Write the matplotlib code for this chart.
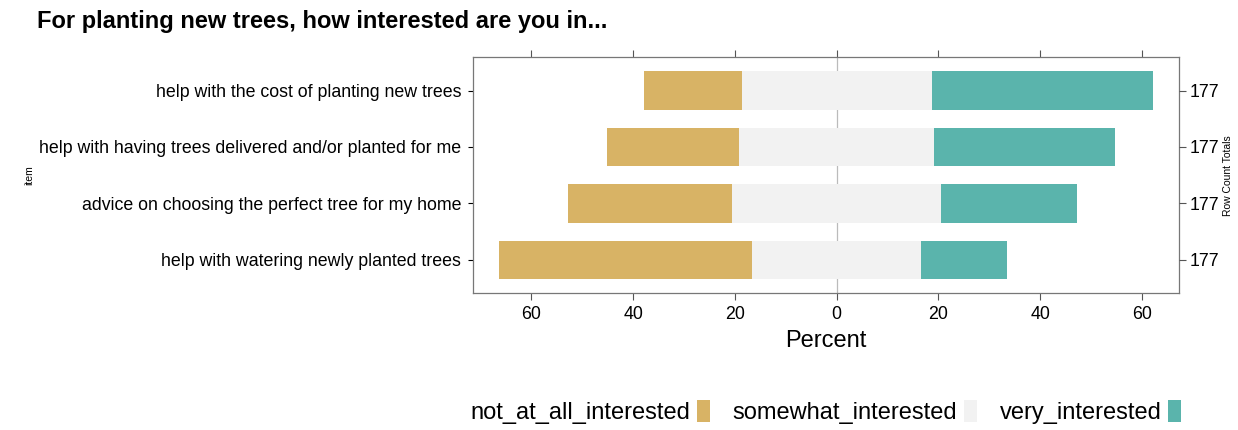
import numpy as np
import matplotlib
matplotlib.use("Agg")
import matplotlib.pyplot as plt
from matplotlib.patches import Patch

plt.rcParams['font.family'] = ['Liberation Sans', 'DejaVu Sans']

# survey items, top to bottom
items = [
    "help with the cost of planting new trees",
    "help with having trees delivered and/or planted for me",
    "advice on choosing the perfect tree for my home",
    "help with watering newly planted trees",
]
levels = ["not_at_all_interested", "somewhat_interested", "very_interested"]
# percent of respondents per level
not_at_all = [19.2, 26.0, 32.2, 49.7]
somewhat = [37.3, 38.4, 41.2, 33.3]
very = [43.5, 35.6, 26.6, 16.9]
row_totals = [177, 177, 177, 177]

colors = ["#D8B365", "#F2F2F2", "#5AB4AC"]

fig = plt.figure(figsize=(12.38, 4.30), dpi=100)
ax = fig.add_axes([0.382, 0.318, 0.570, 0.549])

y = np.arange(1, len(items) + 1)
h = 0.675
na = np.array(not_at_all)
sw = np.array(somewhat)
vy = np.array(very)

ax.axvline(0, color="#BBBBBB", lw=0.9, zorder=0)
# diverging bars: neutral centred on zero
ax.barh(y, -na, left=-sw / 2, height=h, color=colors[0], zorder=2)
ax.barh(y, sw, left=-sw / 2, height=h, color=colors[1], zorder=2)
ax.barh(y, vy, left=sw / 2, height=h, color=colors[2], zorder=2)

ax.set_xlim(-71.5, 67.2)
ax.set_ylim(4.59, 0.41)
ticks = [-60, -40, -20, 0, 20, 40, 60]
ax.set_xticks(ticks)
ax.set_xticklabels([str(abs(t)) for t in ticks], fontsize=12.8)
ax.tick_params(axis="x", top=True, direction="out", length=5, width=0.8,
               color="#555555", pad=4)
ax.set_yticks(y)
ax.set_yticklabels(items, fontsize=12.8)
ax.tick_params(axis="y", left=False, pad=5)
for s in ax.spines.values():
    s.set_color("#777777")
    s.set_linewidth(0.9)
ax.set_xlabel("Percent", fontsize=17, labelpad=5)
ax.set_ylabel("item", fontsize=7.5, labelpad=8)
ax.yaxis.set_label_coords(-0.622, 0.5)

ax2 = ax.twinx()
ax2.set_ylim(ax.get_ylim())
ax2.set_yticks(y)
ax2.set_yticklabels([str(n) for n in row_totals], fontsize=12.8)
ax2.tick_params(axis="y", direction="out", length=5, width=0.8, color="#555555", pad=3)
ax2.set_ylabel("Row Count Totals", fontsize=7.5, labelpad=3)
for s in ax2.spines.values():
    s.set_visible(False)

fig.text(0.030, 0.950, "For planting new trees, how interested are you in...",
         fontsize=17, fontweight="bold", va="center", ha="left")

handles = [Patch(facecolor=c, edgecolor="none") for c in colors]
fig.legend(handles, levels, loc="center", bbox_to_anchor=(0.667, 0.042),
           ncol=3, frameon=False, markerfirst=False, fontsize=17,
           handlelength=0.55, handleheight=1.1, handletextpad=0.3,
           columnspacing=0.95)

fig.savefig("out.png", dpi=100)
